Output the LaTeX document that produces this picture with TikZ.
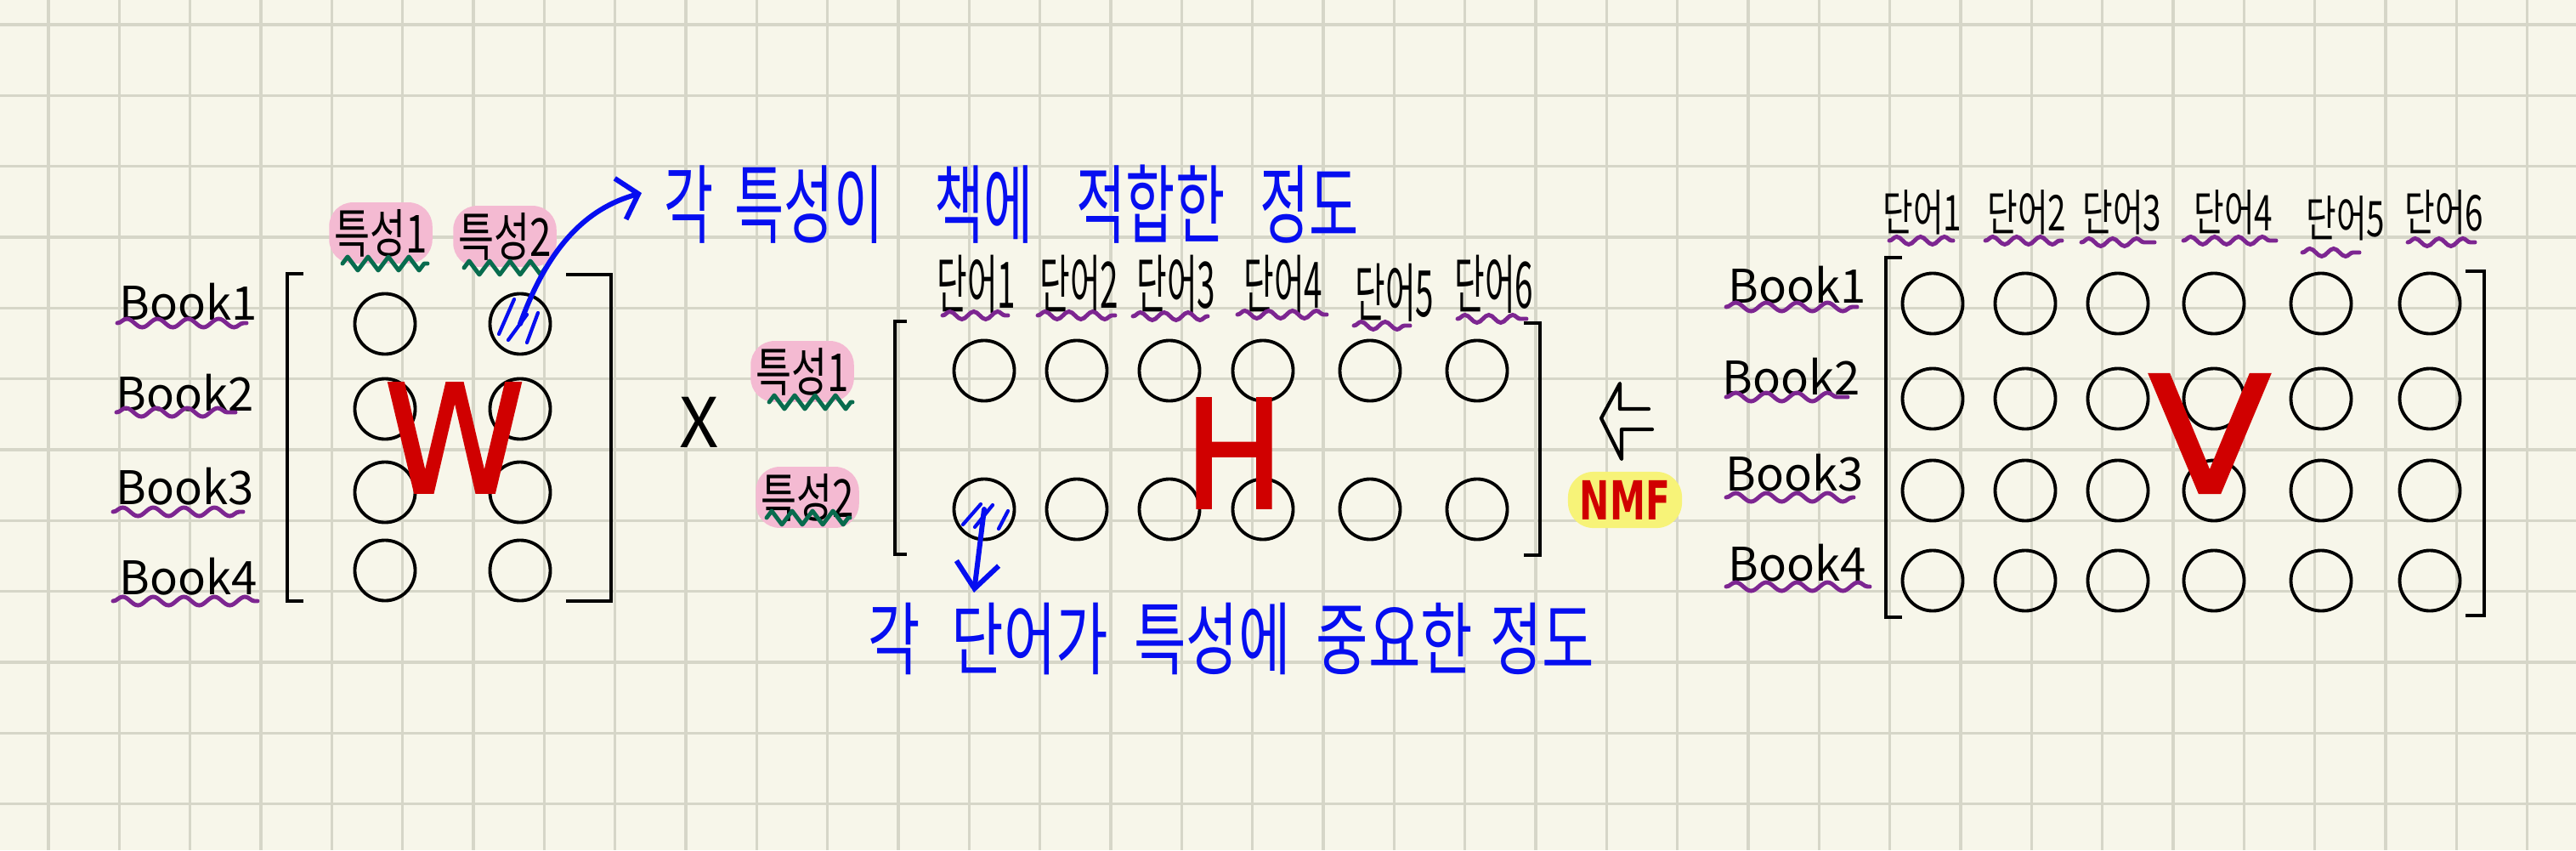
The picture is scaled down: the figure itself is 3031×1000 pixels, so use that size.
\documentclass[tikz,border=0pt]{standalone}
\usepackage{fontspec}
\setmainfont{Noto Sans CJK KR}
\newfontfamily\latinsans{DejaVu Sans}
\newfontfamily\redsans{DejaVu Sans}[FakeBold=2]
\usetikzlibrary{arrows.meta,decorations.pathmorphing}
\definecolor{paper}{RGB}{247,246,234}
\definecolor{gridc}{RGB}{214,214,200}
\definecolor{inkblue}{RGB}{6,14,240}
\definecolor{inkred}{RGB}{208,0,0}
\definecolor{inkpurple}{RGB}{125,38,145}
\definecolor{inkgreen}{RGB}{8,108,78}
\definecolor{pinkhl}{RGB}{244,186,210}
\definecolor{yellowhl}{RGB}{247,243,120}
\newcommand\vstretch[2]{\scalebox{1}[#1]{#2}}
\begin{document}
\begin{tikzpicture}[x=0.01cm,y=-0.01cm,
  gridline/.style={draw=gridc,line width=0.9pt},
  cell/.style={circle,draw=black,line width=1.1pt,minimum size=0.71cm,inner sep=0pt},
  bracket/.style={draw=black,line width=1.1pt},
  booklbl/.style={inner sep=0pt,font=\fontsize{15.5}{15.5}\selectfont},
  featlbl/.style={fill=pinkhl,rounded corners=0.28cm,inner xsep=0.06cm,inner ysep=0.08cm,font=\fontsize{13}{13}\selectfont},
  wordlbl/.style={inner sep=0pt,font=\fontsize{11}{11}\selectfont},
  bignote/.style={inner sep=0pt,text=inkblue},
  bigletter/.style={inner sep=0pt,text=inkred,font=\redsans\fontsize{50}{50}\selectfont},
  purplewave/.style={draw=inkpurple,line width=1.4pt,line cap=round,decorate,decoration={snake,segment length=0.36cm,amplitude=0.05cm}},
  shortwave/.style={draw=inkpurple,line width=1.4pt,line cap=round,decorate,decoration={snake,segment length=0.28cm,amplitude=0.045cm}},
  greenzig/.style={draw=inkgreen,line width=1.4pt,line join=round,line cap=round,decorate,decoration={zigzag,segment length=0.24cm,amplitude=0.08cm}},
  hatch/.style={draw=inkblue,line width=1.2pt,line cap=round},
  bluearrow/.style={draw=inkblue,line width=1.7pt,line cap=round,-{Straight Barb[length=0.22cm,width=0.5cm]}},
]
% paper and grid
\fill[paper] (0,0) rectangle (3031,1000);
\useasboundingbox (0,0) rectangle (3031,1000);
\foreach \i in {0,...,35} \draw[gridline] ({57+83.333*\i},0) -- ({57+83.333*\i},1000);
\foreach \j in {0,...,11} \draw[gridline] (0,{29+83.333*\j}) -- (3031,{29+83.333*\j});

% ---------- W matrix ----------
\foreach \r/\y in {1/381,2/481,3/579,4/671}{
  \node[cell] (w\r1) at (453,\y) {};
  \node[cell] (w\r2) at (612,\y) {};
}
\draw[bracket] (357,322) -- (338,322) -- (338,707) -- (357,707);
\draw[bracket] (666,323) -- (719,323) -- (719,707) -- (666,707);
\node[booklbl] (wb1) at (222,355) {Book1};
\node[booklbl] (wb2) at (218,462) {Book2};
\node[booklbl] (wb3) at (218,572) {Book3};
\node[booklbl] (wb4) at (222,678) {Book4};
\draw[purplewave] (138,380) -- (290,380);
\draw[purplewave] (137,485) -- (277,485);
\draw[purplewave] (133,602) -- (286,602);
\draw[purplewave] (133,707) -- (303,707);
\node[featlbl] (wf1) at (448,274) {\vstretch{1.35}{특성1}};
\node[featlbl] (wf2) at (594,278) {\vstretch{1.35}{특성2}};
\draw[greenzig] (403,310) -- (503,310);
\draw[greenzig] (546,315) -- (643,315);
\node[bigletter] (wlet) at (535,515) {\scalebox{0.95}[1]{W}};
\draw[hatch] (605,352) -- (587,393);
\draw[hatch] (620,370) -- (598,400);
\draw[hatch] (633,368) -- (620,403);

% times
\node[inner sep=0pt,font=\fontsize{23}{23}\selectfont] (times) at (823,497) {X};

% ---------- H matrix ----------
\foreach \c/\x in {1/1158,2/1267,3/1376,4/1486,5/1612,6/1738}{
  \node[cell] (h1\c) at (\x,436) {};
  \node[cell] (h2\c) at (\x,599) {};
}
\draw[bracket] (1067,378) -- (1053,378) -- (1053,652) -- (1067,652);
\draw[bracket] (1793,380) -- (1812,380) -- (1812,653) -- (1793,653);
\node[featlbl] (hf1) at (944,437) {\vstretch{1.35}{특성1}};
\node[featlbl] (hf2) at (950,585) {\vstretch{1.35}{특성2}};
\draw[greenzig] (905,473) -- (1003,473);
\draw[greenzig] (902,609) -- (1000,609);
\node[wordlbl] (hw1) at (1149,334) {\vstretch{1.95}{단어1}};
\node[wordlbl] (hw2) at (1270,334) {\vstretch{1.95}{단어2}};
\node[wordlbl] (hw3) at (1384,334) {\vstretch{1.95}{단어3}};
\node[wordlbl] (hw4) at (1510,334) {\vstretch{1.95}{단어4}};
\node[wordlbl] (hw5) at (1641,344) {\vstretch{1.95}{단어5}};
\node[wordlbl] (hw6) at (1758,334) {\vstretch{1.95}{단어6}};
\draw[shortwave] (1109,371) -- (1186,371);
\draw[shortwave] (1221,371) -- (1312,371);
\draw[shortwave] (1333,372) -- (1421,372);
\draw[shortwave] (1456,370) -- (1561,370);
\draw[shortwave] (1593,383) -- (1659,383);
\draw[shortwave] (1715,375) -- (1796,375);
\node[bigletter] (hlet) at (1452,533) {\scalebox{0.88}[1]{H}};
\draw[hatch] (1154,593) -- (1133,617);
\draw[hatch] (1168,594) -- (1147,620);
\draw[hatch] (1186,601) -- (1175,622);

% ---------- NMF arrow ----------
\draw[line width=1.2pt,line join=round,line cap=round] (1940,481) -- (1906,481) -- (1906,451) -- (1884,492) -- (1908,540) -- (1908,505) -- (1944,505);
\node[fill=yellowhl,rounded corners=0.3cm,inner xsep=0.14cm,inner ysep=0.1cm,text=inkred,font=\latinsans\bfseries\fontsize{12}{12}\selectfont] (nmf) at (1912,588) {\vstretch{1.5}{NMF}};

% ---------- V matrix ----------
\foreach \c/\x in {1/2274,2/2383,3/2492,4/2605,5/2731,6/2859}{
  \foreach \r/\y in {1/357,2/469,3/577,4/683}{
    \node[cell] (v\r\c) at (\x,\y) {};
  }
}
\draw[bracket] (2238,303) -- (2219,303) -- (2219,726) -- (2238,726);
\draw[bracket] (2901,319) -- (2923,319) -- (2923,724) -- (2901,724);
\node[booklbl] (vb1) at (2115,335) {Book1};
\node[booklbl] (vb2) at (2108,443) {Book2};
\node[booklbl] (vb3) at (2112,556) {Book3};
\node[booklbl] (vb4) at (2115,662) {Book4};
\draw[purplewave] (2031,361) -- (2185,361);
\draw[purplewave] (2031,467) -- (2174,467);
\draw[purplewave] (2031,585) -- (2181,585);
\draw[purplewave] (2031,690) -- (2200,690);
\node[wordlbl] (vw1) at (2262,250) {\vstretch{1.5}{단어1}};
\node[wordlbl] (vw2) at (2385,250) {\vstretch{1.5}{단어2}};
\node[wordlbl] (vw3) at (2497,250) {\vstretch{1.5}{단어3}};
\node[wordlbl] (vw4) at (2628,250) {\vstretch{1.5}{단어4}};
\node[wordlbl] (vw5) at (2760,257) {\vstretch{1.5}{단어5}};
\node[wordlbl] (vw6) at (2876,250) {\vstretch{1.5}{단어6}};
\draw[shortwave] (2223,283) -- (2298,283);
\draw[shortwave] (2336,283) -- (2426,283);
\draw[shortwave] (2449,285) -- (2535,285);
\draw[shortwave] (2569,283) -- (2678,283);
\draw[shortwave] (2709,297) -- (2776,297);
\draw[shortwave] (2833,285) -- (2912,285);
\node[bigletter,font=\redsans\fontsize{54}{54}\selectfont] (vlet) at (2600,510) {\scalebox{1.1}[1]{V}};

% ---------- blue notes ----------
\node[bignote,font=\fontsize{18}{18}\selectfont] (topnote) at (1190,240)
  {\vstretch{1.6}{각\hspace{0.4em}특성이\hspace{0.95em}책에\hspace{0.8em}적합한\hspace{0.65em}정도}};
\node[bignote,font=\fontsize{19}{19}\selectfont] (botnote) at (1449,752)
  {\vstretch{1.4}{각\hspace{0.55em}단어가\hspace{0.45em}특성에\hspace{0.45em}중요한\hspace{0.3em}정도}};
\coordinate (topend) at (755,227);
\draw[bluearrow] (w12.center) .. controls (645,290) and (690,245) .. (topend);
\coordinate (botend) at (1146,697);
\draw[bluearrow,-{Straight Barb[length=0.3cm,width=0.5cm]}] (h21.center) -- (botend);
\end{tikzpicture}
\end{document}
